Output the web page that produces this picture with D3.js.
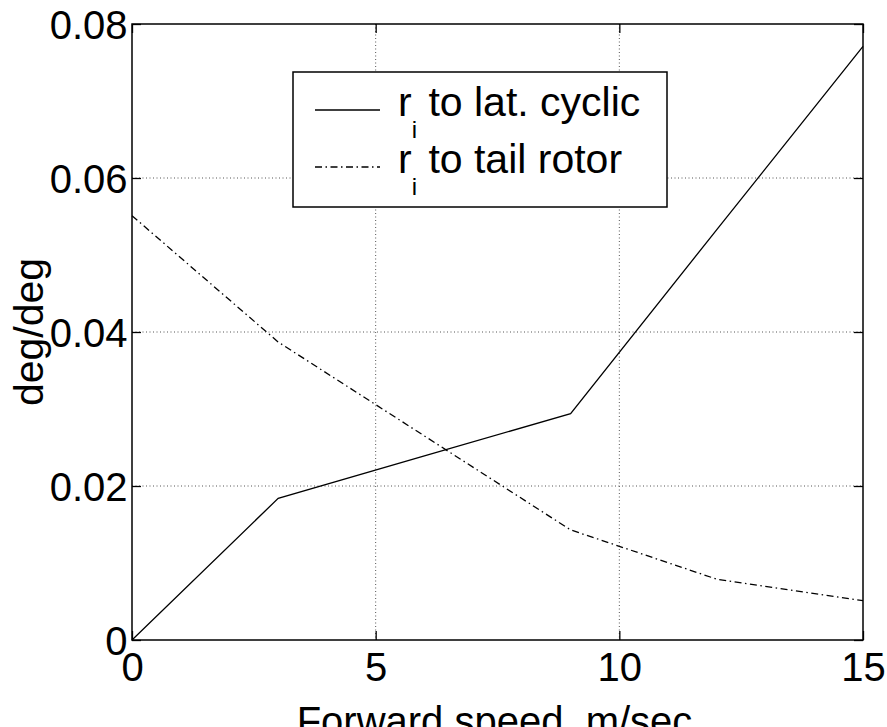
<!DOCTYPE html>
<html>
<head>
<meta charset="utf-8">
<script src="https://cdn.jsdelivr.net/npm/d3@7/dist/d3.min.js"></script>
<style>
  html, body { margin: 0; padding: 0; background: #fff; }
  svg { display: block; font-family: "Liberation Sans", Arial, Helvetica, sans-serif; }
</style>
</head>
<body>
<svg id="chart" width="887" height="727"></svg>
<script>
// Forward speed (m/sec) at which each coupling gain was evaluated
const speeds = [0, 3, 6, 9, 12, 15];
// r_i to lateral cyclic coupling, deg/deg
const latCyclic = [0, 0.0184, 0.0239, 0.0294, 0.0533, 0.0771];
// r_i to tail rotor coupling, deg/deg
const tailRotor = [0.0551, 0.0387, 0.0265, 0.0143, 0.0079, 0.0051];

const xTicks = [0, 5, 10, 15];
const yTicks = [0, 0.02, 0.04, 0.06, 0.08];
const yTickLabels = ["0", "0.02", "0.04", "0.06", "0.08"];
const legendLabels = ["to lat. cyclic", "to tail rotor"];

const svg = d3.select("#chart");
const W = 887, H = 727;
const plot = { left: 132, right: 863, top: 24, bottom: 640 };

svg.append("rect").attr("width", W).attr("height", H).attr("fill", "#fff");

const x = d3.scaleLinear().domain([0, 15]).range([plot.left, plot.right]);
const y = d3.scaleLinear().domain([0, 0.08]).range([plot.bottom, plot.top]);

// dotted grid
const grid = svg.append("g")
  .attr("stroke", "#555").attr("stroke-width", 1).attr("stroke-dasharray", "1,2.5");
grid.selectAll("line.gx").data(xTicks.filter(d => d > 0 && d < 15)).enter()
  .append("line")
  .attr("x1", d => x(d)).attr("x2", d => x(d))
  .attr("y1", plot.top).attr("y2", plot.bottom);
grid.selectAll("line.gy").data(yTicks.filter(d => d > 0 && d < 0.08)).enter()
  .append("line")
  .attr("x1", plot.left).attr("x2", plot.right)
  .attr("y1", d => y(d)).attr("y2", d => y(d));

// data lines
const line = d3.line().x(d => x(d[0])).y(d => y(d[1]));
svg.append("path")
  .datum(speeds.map((s, i) => [s, latCyclic[i]]))
  .attr("d", line).attr("fill", "none")
  .attr("stroke", "#000").attr("stroke-width", 1.3);
svg.append("path")
  .datum(speeds.map((s, i) => [s, tailRotor[i]]))
  .attr("d", line).attr("fill", "none")
  .attr("stroke", "#000").attr("stroke-width", 1.3)
  .attr("stroke-dasharray", "7,3.5,1.5,3.5");

// axes with inward ticks
const fontSize = 40;
const tick = 9;
const axB = svg.append("g").attr("transform", `translate(0,${plot.bottom})`)
  .call(d3.axisBottom(x).tickValues(xTicks).tickSizeInner(-tick).tickSizeOuter(0)
    .tickPadding(13).tickFormat(d3.format("d")));
const axL = svg.append("g").attr("transform", `translate(${plot.left},0)`)
  .call(d3.axisLeft(y).tickValues(yTicks).tickSizeInner(-tick).tickSizeOuter(0)
    .tickPadding(4.5).tickFormat((d, i) => yTickLabels[i]));
const axT = svg.append("g").attr("transform", `translate(0,${plot.top})`)
  .call(d3.axisTop(x).tickValues(xTicks).tickSizeInner(-tick).tickSizeOuter(0).tickFormat(""));
const axR = svg.append("g").attr("transform", `translate(${plot.right},0)`)
  .call(d3.axisRight(y).tickValues(yTicks).tickSizeInner(-tick).tickSizeOuter(0).tickFormat(""));

[axB, axL, axT, axR].forEach(a => {
  a.select(".domain").remove();
  a.selectAll(".tick line").attr("stroke", "#000").attr("stroke-width", 1.3);
  a.selectAll(".tick text")
    .attr("fill", "#000").attr("font-size", fontSize)
    .attr("font-family", "Liberation Sans, Arial, sans-serif");
});
axB.selectAll(".tick text").attr("dy", "0.71em");
axL.selectAll(".tick text").attr("dy", "0.36em");

// frame
svg.append("rect")
  .attr("x", plot.left).attr("y", plot.top)
  .attr("width", plot.right - plot.left).attr("height", plot.bottom - plot.top)
  .attr("fill", "none").attr("stroke", "#000").attr("stroke-width", 1.5);

// axis titles
svg.append("text")
  .attr("x", (plot.left + plot.right) / 2 - 3).attr("y", 735)
  .attr("text-anchor", "middle").attr("font-size", fontSize).attr("fill", "#000")
  .text("Forward speed, m/sec");
svg.append("text")
  .attr("transform", `translate(43,${(plot.top + plot.bottom) / 2}) rotate(-90)`)
  .attr("text-anchor", "middle").attr("font-size", 41).attr("fill", "#000")
  .text("deg/deg");

// legend
const lg = svg.append("g").attr("transform", "translate(293,72)");
lg.append("rect").attr("width", 374).attr("height", 135)
  .attr("fill", "#fff").attr("stroke", "#000").attr("stroke-width", 1.5);
const rows = [
  { label: legendLabels[0], dash: null, y: 38 },
  { label: legendLabels[1], dash: "7,3.5,1.5,3.5", y: 95 }
];
rows.forEach(r => {
  lg.append("line")
    .attr("x1", 22).attr("x2", 87).attr("y1", r.y).attr("y2", r.y)
    .attr("stroke", "#000").attr("stroke-width", 1.3)
    .attr("stroke-dasharray", r.dash);
  const t = lg.append("text")
    .attr("x", 105).attr("y", r.y + 6)
    .attr("font-size", 41).attr("fill", "#000");
  t.append("tspan").text("r");
  t.append("tspan").attr("font-size", 24).attr("dy", 22).text("i");
  t.append("tspan").attr("dy", -22).text(" " + r.label);
});
</script>
</body>
</html>
